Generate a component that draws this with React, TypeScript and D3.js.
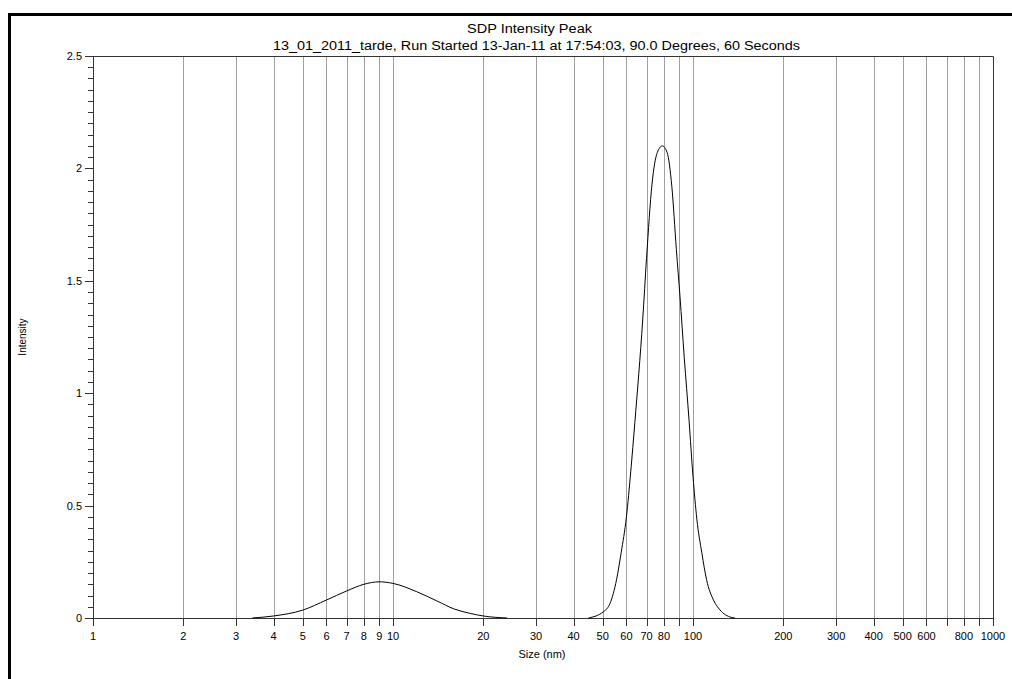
import React, { useRef, useEffect } from 'react'
import * as d3 from 'd3'

const WIDTH = 1012
const HEIGHT = 679
const PLOT = { left: 93, right: 993, top: 56, bottom: 618 }

const TITLE = 'SDP Intensity Peak'
const SUBTITLE = '13_01_2011_tarde, Run Started 13-Jan-11 at 17:54:03, 90.0 Degrees, 60 Seconds'

// small peak around 9 nm
const peak1Size = [3.4, 4, 5, 6, 7, 8, 9, 10, 12, 14, 16, 18, 20, 24]
const peak1Intensity = [0, 0.009, 0.035, 0.08, 0.12, 0.15, 0.161, 0.154, 0.117, 0.076, 0.04, 0.021, 0.009, 0]

// main peak around 80 nm
const peak2Size = [44.8, 50.3, 52.9, 55.6, 57.6, 60, 62, 64, 68, 70, 73, 76, 79, 82, 85, 88, 90.5, 93.5, 97, 100, 103, 107, 111, 117, 123, 134, 138]
const peak2Intensity = [0, 0.028, 0.065, 0.17, 0.29, 0.45, 0.65, 0.87, 1.33, 1.6, 1.93, 2.07, 2.1, 2.07, 1.92, 1.64, 1.43, 1.16, 0.88, 0.63, 0.44, 0.29, 0.17, 0.08, 0.036, 0.003, 0]

const xTicks = [1, 2, 3, 4, 5, 6, 7, 8, 9, 10, 20, 30, 40, 50, 60, 70, 80, 90, 100, 200, 300, 400, 500, 600, 700, 800, 900, 1000]
const xLabels = [1, 2, 3, 4, 5, 6, 7, 8, 9, 10, 20, 30, 40, 50, 60, 70, 80, 100, 200, 300, 400, 500, 600, 800, 1000]
const yTicks = [0, 0.5, 1, 1.5, 2, 2.5]

const FONT = '"Liberation Sans", Arial, sans-serif'

const App = () => {
  const ref = useRef<SVGSVGElement>(null)

  useEffect(() => {
    const svg = d3.select(ref.current)
    svg.selectAll('*').remove()

    const x = d3.scaleLog().domain([1, 1000]).range([PLOT.left, PLOT.right])
    const y = d3.scaleLinear().domain([0, 2.5]).range([PLOT.bottom, PLOT.top])

    svg.append('rect').attr('width', WIDTH).attr('height', HEIGHT).attr('fill', '#fff')

    // outer frame (left + top edges visible)
    svg
      .append('path')
      .attr('d', `M9.5,${HEIGHT} V14.5 H${WIDTH}`)
      .attr('fill', 'none')
      .attr('stroke', '#000')
      .attr('stroke-width', 3)

    // titles, stretched to the width of the original lettering
    svg
      .append('text')
      .attr('x', 467)
      .attr('y', 33)
      .attr('textLength', 125)
      .attr('lengthAdjust', 'spacingAndGlyphs')
      .attr('font-family', FONT)
      .attr('font-size', 12.5)
      .text(TITLE)
    svg
      .append('text')
      .attr('x', 273)
      .attr('y', 50)
      .attr('textLength', 527)
      .attr('lengthAdjust', 'spacingAndGlyphs')
      .attr('font-family', FONT)
      .attr('font-size', 12.5)
      .text(SUBTITLE)

    // vertical gridlines
    svg
      .append('g')
      .selectAll('line')
      .data(xTicks.filter(d => d > 1 && d < 1000))
      .join('line')
      .attr('x1', d => Math.round(x(d)) + 0.5)
      .attr('x2', d => Math.round(x(d)) + 0.5)
      .attr('y1', PLOT.top)
      .attr('y2', PLOT.bottom)
      .attr('stroke', '#a0a0a0')

    // plot border top / right
    svg
      .append('path')
      .attr('d', `M${PLOT.left},${PLOT.top + 0.5} H${PLOT.right + 0.5} V${PLOT.bottom}`)
      .attr('fill', 'none')
      .attr('stroke', '#333')

    // x axis
    const gx = svg.append('g')
    gx.append('line')
      .attr('x1', PLOT.left)
      .attr('x2', PLOT.right + 1)
      .attr('y1', PLOT.bottom + 0.5)
      .attr('y2', PLOT.bottom + 0.5)
      .attr('stroke', '#333')
    gx.selectAll('line.tick')
      .data(xTicks)
      .join('line')
      .attr('class', 'tick')
      .attr('x1', d => Math.round(x(d)) + 0.5)
      .attr('x2', d => Math.round(x(d)) + 0.5)
      .attr('y1', PLOT.bottom)
      .attr('y2', PLOT.bottom + 8)
      .attr('stroke', '#333')
    gx.selectAll('text')
      .data(xLabels)
      .join('text')
      .attr('x', d => x(d))
      .attr('y', 640)
      .attr('text-anchor', 'middle')
      .attr('font-family', FONT)
      .attr('font-size', 11)
      .text(d => d)
    gx.append('text')
      .attr('x', 542)
      .attr('y', 658)
      .attr('text-anchor', 'middle')
      .attr('font-family', FONT)
      .attr('font-size', 11)
      .text('Size (nm)')

    // y axis
    const gy = svg.append('g')
    gy.append('line')
      .attr('x1', PLOT.left + 0.5)
      .attr('x2', PLOT.left + 0.5)
      .attr('y1', PLOT.top)
      .attr('y2', PLOT.bottom + 8)
      .attr('stroke', '#333')
    gy.selectAll('line.minor')
      .data(d3.range(0, 51).map(i => i * 0.05))
      .join('line')
      .attr('class', 'minor')
      .attr('x1', d => (Math.abs(d * 2 - Math.round(d * 2)) < 1e-6 ? PLOT.left - 8 : PLOT.left - 5))
      .attr('x2', PLOT.left)
      .attr('y1', d => Math.round(y(d)) + 0.5)
      .attr('y2', d => Math.round(y(d)) + 0.5)
      .attr('stroke', '#333')
    gy.selectAll('text')
      .data(yTicks)
      .join('text')
      .attr('x', 82)
      .attr('y', d => y(d) + 4)
      .attr('text-anchor', 'end')
      .attr('font-family', FONT)
      .attr('font-size', 11)
      .text(d => d)
    gy.append('text')
      .attr('transform', `translate(26,337) rotate(-90)`)
      .attr('text-anchor', 'middle')
      .attr('font-family', FONT)
      .attr('font-size', 10)
      .text('Intensity')

    // curves
    const line = d3
      .line<[number, number]>()
      .x(d => x(d[0]))
      .y(d => y(d[1]))
      .curve(d3.curveMonotoneX)

    const series = [
      d3.zip(peak1Size, peak1Intensity) as [number, number][],
      d3.zip(peak2Size, peak2Intensity) as [number, number][]
    ]
    svg
      .append('g')
      .selectAll('path')
      .data(series)
      .join('path')
      .attr('d', d => line(d))
      .attr('fill', 'none')
      .attr('stroke', '#000')
      .attr('stroke-width', 1)
  }, [])

  return <svg ref={ref} width={WIDTH} height={HEIGHT} style={{ display: 'block', position: 'absolute', left: 0, top: 0 }} />
}

export default App
